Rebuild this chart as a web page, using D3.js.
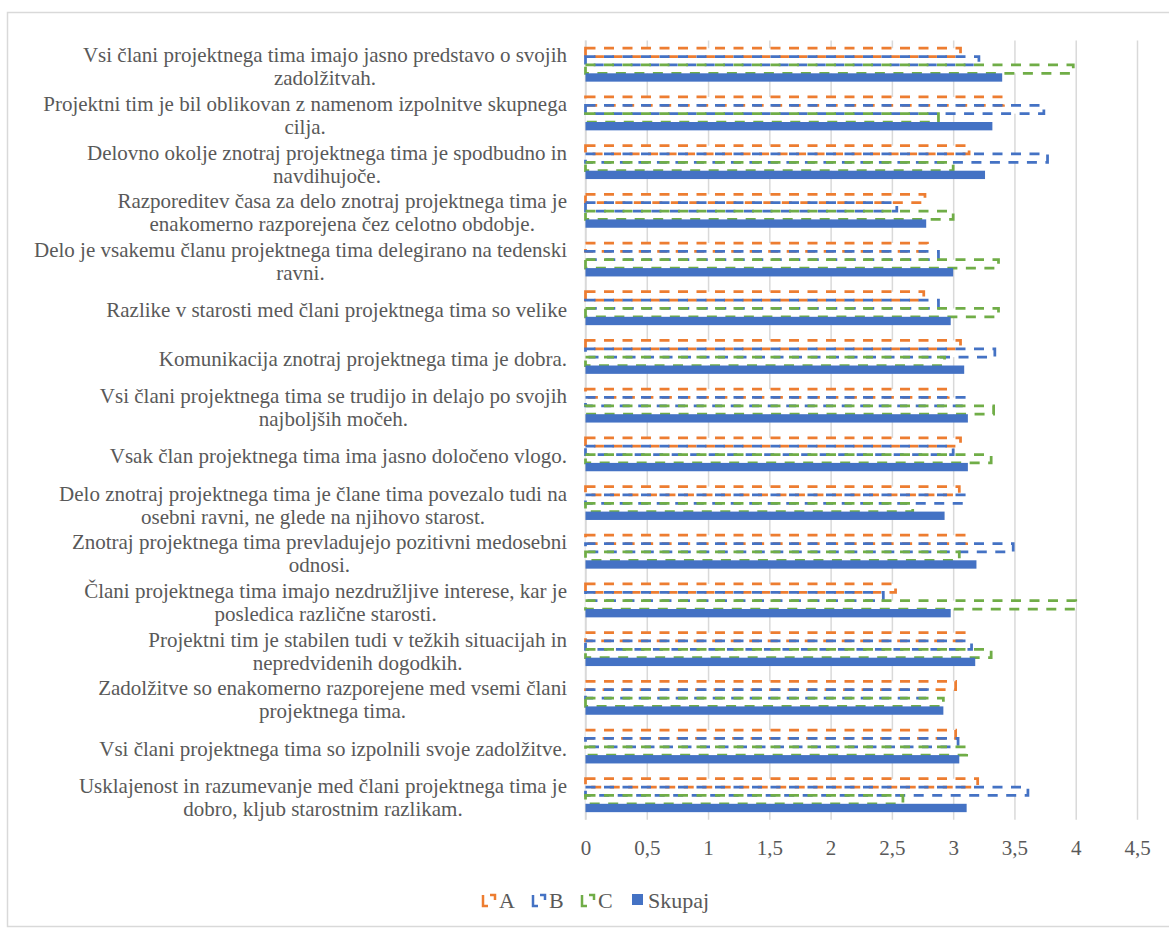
<!DOCTYPE html>
<html>
<head>
<meta charset="utf-8">
<script src="https://cdn.jsdelivr.net/npm/d3@7"></script>
<style>
  html, body { margin: 0; padding: 0; background: #ffffff; }
  svg { display: block; }
  svg text { font-family: "Liberation Serif", "Times New Roman", serif; }
</style>
</head>
<body>
<svg id="chart" width="1169" height="928"></svg>
<script>
// Survey statements (line breaks as laid out in the chart)
const categories = [
  ["Vsi člani projektnega tima imajo jasno predstavo o svojih", "zadolžitvah."],
  ["Projektni tim je bil oblikovan z namenom izpolnitve skupnega", "cilja."],
  ["Delovno okolje znotraj projektnega tima je spodbudno in", "navdihujoče."],
  ["Razporeditev časa za delo znotraj projektnega tima je", "enakomerno razporejena čez celotno obdobje."],
  ["Delo je vsakemu članu projektnega tima delegirano na tedenski", "ravni."],
  ["Razlike v starosti med člani projektnega tima so velike"],
  ["Komunikacija znotraj projektnega tima je dobra."],
  ["Vsi člani projektnega tima se trudijo in delajo po svojih", "najboljših močeh."],
  ["Vsak član projektnega tima ima jasno določeno vlogo."],
  ["Delo znotraj projektnega tima je člane tima povezalo tudi na", "osebni ravni, ne glede na njihovo starost."],
  ["Znotraj projektnega tima prevladujejo pozitivni medosebni", "odnosi."],
  ["Člani projektnega tima imajo nezdružljive interese, kar je", "posledica različne starosti."],
  ["Projektni tim je stabilen tudi v težkih situacijah in", "nepredvidenih dogodkih."],
  ["Zadolžitve so enakomerno razporejene med vsemi člani", "projektnega tima."],
  ["Vsi člani projektnega tima so izpolnili svoje zadolžitve."],
  ["Usklajenost in razumevanje med člani projektnega tima je", "dobro, kljub starostnim razlikam."]
];

// Mean scores per group
const seriesA      = [3.06, 3.41, 3.13, 2.77, 2.79, 2.76, 3.06, 2.96, 3.06, 3.05, 3.11, 2.53, 3.09, 3.02, 3.02, 3.20];
const seriesB      = [3.21, 3.74, 3.77, 2.54, 2.88, 2.88, 3.34, 3.09, 3.00, 3.09, 3.49, 2.43, 3.15, 2.79, 3.04, 3.61];
const seriesC      = [3.98, 2.88, 3.00, 3.00, 3.37, 3.37, 2.93, 3.33, 3.31, 2.67, 3.05, 4.00, 3.31, 2.92, 3.11, 2.59];
const seriesSkupaj = [3.40, 3.32, 3.26, 2.78, 3.00, 2.98, 3.09, 3.12, 3.12, 2.93, 3.19, 2.98, 3.18, 2.92, 3.05, 3.11];

const seriesNames = ["A", "B", "C", "Skupaj"];
const xTicks = [0, 0.5, 1, 1.5, 2, 2.5, 3, 3.5, 4, 4.5];

const series = [
  { name: "A", values: seriesA, color: "#ED7D31", dashed: true },
  { name: "B", values: seriesB, color: "#4472C4", dashed: true },
  { name: "C", values: seriesC, color: "#70AD47", dashed: true },
  { name: "Skupaj", values: seriesSkupaj, color: "#4472C4", dashed: false }
];

const svg = d3.select("#chart");
const textColor = "#595959";
const gridColor = "#d9d9d9";
const serif = '"Liberation Serif", "Times New Roman", serif';

// Outer chart frame
svg.append("rect")
  .attr("x", 7.5).attr("y", 12.5)
  .attr("width", 1175).attr("height", 914)
  .attr("fill", "#ffffff")
  .attr("stroke", gridColor).attr("stroke-width", 1.5);

const plot = { left: 585.5, right: 1137, top: 40.6, bottom: 819.8 };

const x = d3.scaleLinear().domain([0, 4.5]).range([plot.left, plot.right]);
const y = d3.scaleBand()
  .domain(d3.range(categories.length))
  .range([plot.top, plot.bottom])
  .paddingInner(0.314).paddingOuter(0.157);
const ySub = d3.scaleBand()
  .domain(seriesNames)
  .range([0, y.bandwidth()]);

// Vertical gridlines
const gridAxis = d3.axisBottom(x)
  .tickValues(xTicks)
  .tickSize(-(plot.bottom - plot.top))
  .tickFormat("");
svg.append("g")
  .attr("transform", `translate(0,${plot.bottom})`)
  .call(gridAxis)
  .call(g => g.select(".domain").remove())
  .call(g => g.selectAll(".tick line").attr("stroke", gridColor).attr("stroke-width", 1.5));

// Tick labels with decimal comma
const labelAxis = d3.axisBottom(x)
  .tickValues(xTicks)
  .tickSize(0)
  .tickPadding(0)
  .tickFormat(d => String(d).replace(".", ","));
svg.append("g")
  .attr("transform", `translate(0,${plot.bottom})`)
  .call(labelAxis)
  .call(g => g.select(".domain").remove())
  .call(g => g.selectAll("text")
    .attr("y", 28)
    .attr("dy", "0.35em")
    .attr("fill", textColor)
    .style("font-size", "21px")
    .style("font-family", serif));

// Category axis line
svg.append("line")
  .attr("x1", plot.left).attr("x2", plot.left)
  .attr("y1", plot.top).attr("y2", plot.bottom)
  .attr("stroke", gridColor).attr("stroke-width", 1.5);

// Bars
const groups = svg.append("g").selectAll("g")
  .data(categories.map((c, i) => i))
  .join("g")
  .attr("transform", i => `translate(0,${y(i)})`);

// white fill behind the outlined bars
series.filter(s => s.dashed).forEach(s => {
  groups.append("rect")
    .attr("x", x(0))
    .attr("y", ySub(s.name))
    .attr("width", i => x(s.values[i]) - x(0))
    .attr("height", ySub.bandwidth())
    .attr("fill", "#ffffff");
});
// dashed outlines
series.filter(s => s.dashed).forEach(s => {
  groups.append("rect")
    .attr("x", x(0))
    .attr("y", ySub(s.name))
    .attr("width", i => x(s.values[i]) - x(0))
    .attr("height", ySub.bandwidth())
    .attr("fill", "none")
    .attr("stroke", s.color)
    .attr("stroke-width", 2.75)
    .attr("stroke-dasharray", "10,8.5");
});
// solid total bar
series.filter(s => !s.dashed).forEach(s => {
  groups.append("rect")
    .attr("x", x(0))
    .attr("y", ySub(s.name))
    .attr("width", i => x(s.values[i]) - x(0))
    .attr("height", ySub.bandwidth())
    .attr("fill", s.color);
});

// Category labels: block right-aligned, lines centred within the block
const labelRight = 567;
const lineH = 23;
categories.forEach((lines, i) => {
  const cy = y(i) + y.bandwidth() / 2;
  const t = svg.append("text")
    .attr("fill", textColor)
    .style("font-size", "21px")
    .style("font-family", serif)
    .attr("text-anchor", "middle");
  const spans = lines.map((ln, k) =>
    t.append("tspan")
      .attr("y", cy + (k - (lines.length - 1) / 2) * lineH + 1.5)
      .attr("dy", "0.35em")
      .text(ln));
  const maxW = d3.max(spans, sp => sp.node().getComputedTextLength());
  spans.forEach(sp => sp.attr("x", labelRight - maxW / 2));
});

// Legend
const legend = svg.append("g").attr("transform", "translate(0,900)");
const legendItems = [
  { s: series[0], x: 483 },
  { s: series[1], x: 533 },
  { s: series[2], x: 582 },
  { s: series[3], x: 632 }
];
legendItems.forEach(({ s, x: lx }) => {
  if (s.dashed) {
    legend.append("path")
      .attr("d", `M${lx},${-5} V${6} H${lx + 5}`)
      .attr("fill", "none").attr("stroke", s.color).attr("stroke-width", 2.5);
    legend.append("path")
      .attr("d", `M${lx + 7},${-5} H${lx + 12} V${0}`)
      .attr("fill", "none").attr("stroke", s.color).attr("stroke-width", 2.5);
  } else {
    legend.append("rect")
      .attr("x", lx).attr("y", -6)
      .attr("width", 11).attr("height", 11)
      .attr("fill", s.color);
  }
  legend.append("text")
    .attr("x", lx + 16)
    .attr("y", 0)
    .attr("dy", "0.35em")
    .attr("fill", textColor)
    .style("font-size", "22px")
    .style("font-family", serif)
    .text(s.name);
});
</script>
</body>
</html>
